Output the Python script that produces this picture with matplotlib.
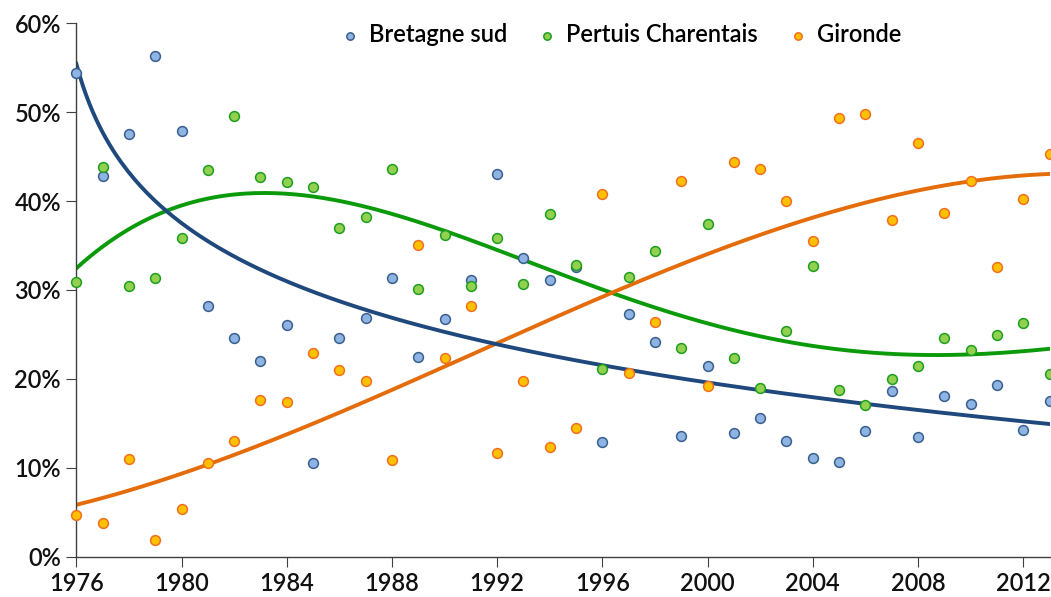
import numpy as np
import matplotlib
matplotlib.use("Agg")
from matplotlib import pyplot as plt
from matplotlib.ticker import PercentFormatter

years = list(range(1976, 2014))

bretagne = [54.4, 42.8, 47.6, 56.3, 47.9, 28.2, 24.6, 22.0, 26.1, 10.5,
            24.6, 26.9, 31.4, 22.5, 26.7, 31.1, 43.0, 33.6, 31.1, 32.6,
            12.9, 27.3, 24.1, 13.6, 21.5, 13.9, 15.6, 13.0, 11.1, 10.6,
            14.1, 18.6, 13.5, 18.1, 17.2, 19.3, 14.3, 17.5]
pertuis = [30.9, 43.8, 30.5, 31.3, 35.8, 43.5, 49.6, 42.7, 42.2, 41.6,
           37.0, 38.2, 43.6, 30.1, 36.2, 30.4, 35.8, 30.7, 38.6, 32.8,
           21.1, 31.5, 34.4, 23.5, 37.4, 22.4, 19.0, 25.4, 32.7, 18.8,
           17.1, 20.0, 21.5, 24.6, 23.3, 24.9, 26.3, 20.5]
gironde = [4.7, 3.8, 11.0, 1.9, 5.4, 10.5, 13.0, 17.6, 17.4, 22.9,
           21.0, 19.8, 10.9, 35.1, 22.4, 28.2, 11.7, 19.8, 12.3, 14.5,
           40.8, 20.7, 26.4, 42.3, 19.2, 44.4, 43.6, 40.0, 35.5, 49.4,
           49.8, 37.9, 46.5, 38.7, 42.3, 32.6, 40.2, 45.3]

plt.rcParams['font.family'] = ['Lato', 'DejaVu Sans']

fig = plt.figure(figsize=(10.51, 5.97), dpi=100)
ax = fig.add_axes([0.0726, 0.0675, 0.926, 0.8935])

x = np.array(years, dtype=float)
idx = np.arange(1, len(years) + 1)
xs = np.linspace(1, len(years), 300)
xs_year = xs + 1975

# trend lines like the spreadsheet ones (index 1..n)
b, a = np.polyfit(np.log(idx), bretagne, 1)
trend_b = a + b * np.log(xs)
trend_p = np.polyval(np.polyfit(idx, pertuis, 4), xs)
trend_g = np.polyval(np.polyfit(idx, gironde, 3), xs)

ax.plot(xs_year, trend_p, color='#0a9a0a', lw=2.8, zorder=2)
ax.plot(xs_year, trend_g, color='#e46c0a', lw=2.8, zorder=2)
ax.plot(xs_year, trend_b, color='#1f497d', lw=2.8, zorder=2)

ax.scatter(x, bretagne, s=50, color='#8eb4e3', edgecolors='#3a5f8f',
           linewidths=1.1, zorder=3, clip_on=False, label='Bretagne sud')
ax.scatter(x, pertuis, s=50, color='#92d050', edgecolors='#1e9e1e',
           linewidths=1.1, zorder=3, clip_on=False, label='Pertuis Charentais')
ax.scatter(x, gironde, s=50, color='#ffc000', edgecolors='#f07020',
           linewidths=1.1, zorder=3, clip_on=False, label='Gironde')

ax.set_xlim(1976, 2013)
ax.set_ylim(0, 60)
ax.set_xticks(range(1976, 2013, 4))
ax.set_yticks(range(0, 61, 10))
ax.yaxis.set_major_formatter(PercentFormatter(decimals=0))
for s in ['top', 'right']:
    ax.spines[s].set_visible(False)
for s in ['left', 'bottom']:
    ax.spines[s].set_color('#404040')
    ax.spines[s].set_linewidth(1.0)
ax.tick_params(axis='both', labelsize=17, length=7, color='#404040',
               direction='out', labelcolor='#111111')
ax.tick_params(axis='y', pad=4)
ax.tick_params(axis='x', pad=4)
for lab in ax.get_xticklabels() + ax.get_yticklabels():
    lab.set_fontweight('semibold')

leg = fig.legend(loc='upper center', bbox_to_anchor=(0.591, 0.997), ncol=3,
                 frameon=False, handlelength=0.8, handletextpad=0.4,
                 columnspacing=1.3, markerscale=0.75,
                 prop={'size': 17, 'weight': 'semibold'})

fig.savefig('out.png', dpi=100)
